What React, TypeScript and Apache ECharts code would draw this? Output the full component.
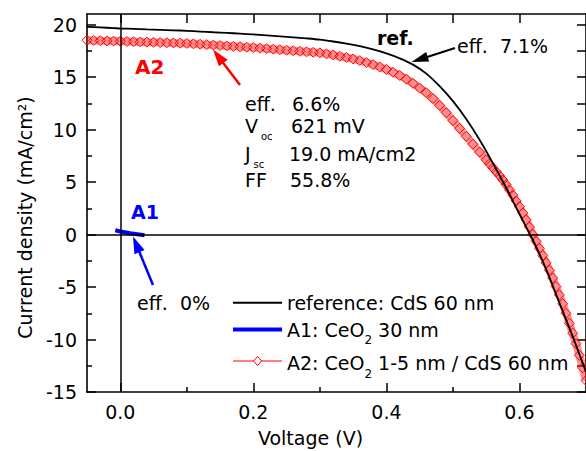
import React, { useEffect, useRef } from "react";
import * as echarts from "echarts";

const FONT = '"DejaVu Sans", sans-serif';

// axis ticks
const xMajorTicks = [0, 0.2, 0.4, 0.6];
const xMinorTicks = [0.1, 0.3, 0.5];
const xTopTicks = [0, 0.1, 0.2, 0.3, 0.4, 0.5, 0.6];
const yMajorTicks = [-15, -10, -5, 0, 5, 10, 15, 20];
const yMinorTicks = [-12.5, -7.5, -2.5, 2.5, 7.5, 12.5, 17.5];
const yRightTicks = [-15, -12.5, -10, -7.5, -5, -2.5, 0, 2.5, 5, 7.5, 10, 12.5, 15, 17.5, 20];

// reference: CdS 60 nm
const refVoltage = [-0.05, -0.03, -0.01, 0, 0.02, 0.04, 0.06, 0.08, 0.1, 0.12, 0.14, 0.16, 0.18, 0.2, 0.22, 0.24, 0.26, 0.28, 0.3, 0.32, 0.34, 0.36, 0.38, 0.4, 0.42, 0.44, 0.46, 0.48, 0.5, 0.52, 0.54, 0.56, 0.58, 0.6, 0.61, 0.62, 0.63, 0.64, 0.65, 0.66, 0.67, 0.68, 0.69, 0.7];
const refCurrent = [19.78, 19.72, 19.66, 19.62, 19.58, 19.53, 19.49, 19.45, 19.4, 19.33, 19.26, 19.2, 19.13, 19.05, 18.96, 18.87, 18.78, 18.68, 18.56, 18.38, 18.17, 17.93, 17.62, 17.25, 16.78, 16.18, 15.32, 14.12, 12.7, 11.0, 9.02, 6.8, 4.45, 1.95, 0.72, -0.5, -1.85, -3.3, -4.9, -6.5, -8.1, -9.7, -11.4, -13.1];

// A1: CeO2 30 nm
const a1Voltage = [-0.0075, 0, 0.015, 0.0365];
const a1Current = [0.4, 0.28, 0.12, -0.08];

// A2: CeO2 1-5 nm / CdS 60 nm
const a2Voltage = [-0.05, -0.04, -0.03, -0.02, -0.01, 0, 0.01, 0.02, 0.03, 0.04, 0.05, 0.06, 0.07, 0.08, 0.09, 0.1, 0.11, 0.12, 0.13, 0.14, 0.15, 0.16, 0.17, 0.18, 0.19, 0.2, 0.21, 0.22, 0.23, 0.24, 0.25, 0.26, 0.27, 0.28, 0.29, 0.3, 0.31, 0.32, 0.33, 0.34, 0.35, 0.36, 0.37, 0.38, 0.39, 0.4, 0.41, 0.42, 0.43, 0.44, 0.45, 0.46, 0.47, 0.48, 0.49, 0.5, 0.51, 0.52, 0.53, 0.54, 0.55, 0.555, 0.56, 0.565, 0.57, 0.575, 0.58, 0.585, 0.59, 0.595, 0.6, 0.605, 0.61, 0.615, 0.62, 0.625, 0.63, 0.635, 0.64, 0.645, 0.65, 0.655, 0.66, 0.665, 0.67, 0.675, 0.68, 0.685, 0.69, 0.695, 0.7];
const a2Current = [18.5, 18.48, 18.46, 18.44, 18.42, 18.4, 18.38, 18.36, 18.34, 18.32, 18.3, 18.28, 18.26, 18.24, 18.22, 18.2, 18.16, 18.12, 18.08, 18.04, 18.0, 17.96, 17.92, 17.88, 17.84, 17.8, 17.75, 17.7, 17.65, 17.6, 17.55, 17.5, 17.45, 17.4, 17.35, 17.3, 17.2, 17.1, 16.98, 16.86, 16.72, 16.56, 16.38, 16.18, 15.96, 15.72, 15.45, 15.15, 14.8, 14.4, 13.95, 13.5, 12.95, 12.3, 11.6, 10.85, 10.1, 9.35, 8.6, 7.85, 7.1, 6.72, 6.35, 5.98, 5.6, 5.2, 4.75, 4.25, 3.75, 3.2, 2.65, 2.05, 1.4, 0.72, 0.0, -0.65, -1.32, -2.0, -2.7, -3.4, -4.15, -4.95, -5.75, -6.6, -7.5, -8.45, -9.4, -10.4, -11.5, -12.7, -13.9];

const seriesNames = ["reference: CdS 60 nm", "A1: CeO2 30 nm", "A2: CeO2 1-5 nm / CdS 60 nm"];

const zip = (xs: number[], ys: number[]) => xs.map((x, i) => [x, ys[i]]);

function arrow(tail: number[], tip: number[], color: string, width: number, headLen: number, headW: number) {
  const dx = tip[0] - tail[0];
  const dy = tip[1] - tail[1];
  const len = Math.hypot(dx, dy);
  const ux = dx / len;
  const uy = dy / len;
  const bx = tip[0] - ux * headLen;
  const by = tip[1] - uy * headLen;
  const px = (-uy * headW) / 2;
  const py = (ux * headW) / 2;
  return [
    { type: "line", silent: true, shape: { x1: tail[0], y1: tail[1], x2: bx + ux * 3, y2: by + uy * 3 }, style: { stroke: color, lineWidth: width } },
    { type: "polygon", silent: true, shape: { points: [[tip[0], tip[1]], [bx + px, by + py], [bx - px, by - py]] }, style: { fill: color } },
  ];
}

function txt(x: number, y: number, text: string, opts: any = {}) {
  return {
    type: "text",
    x,
    y,
    silent: true,
    style: {
      text,
      fontSize: opts.fontSize || 19,
      fontFamily: FONT,
      fontWeight: opts.fontWeight || "normal",
      fill: opts.fill || "#000",
      align: "left",
      verticalAlign: "middle",
      rich: opts.rich,
    },
  };
}

const subStyle = (pad: number, size = 12, left = 0) => ({ fontSize: size, fontFamily: FONT, fill: "#000", padding: [pad, 0, 0, left] });

export default function App() {
  const ref = useRef<HTMLDivElement>(null);
  useEffect(() => {
    if (!ref.current) return;
    const chart = echarts.init(ref.current, null, { renderer: "svg" });
    const axisText = { fontSize: 19, fontFamily: FONT, color: "#000" };
    const lineBlack = { color: "#000", width: 1.6 };
    const base = { type: "value", splitLine: { show: false } };
    const graphic: any[] = [
      txt(377, 38, "ref.", { fontWeight: "bold" }),
      txt(457, 46, "eff.  7.1%"),
      ...arrow([455, 48], [411.5, 62], "#000", 2, 17, 10),
      txt(135, 67, "A2", { fontWeight: "bold", fontSize: 20, fill: "#ff0000" }),
      ...arrow([240, 85], [213, 49.5], "#ff0000", 2.5, 17, 11),
      txt(245, 104, "eff."),
      txt(292, 104, "6.6%"),
      txt(245, 126, "V{sub|oc}", { rich: { sub: subStyle(21, 10, 3) } }),
      txt(291, 126, "621 mV"),
      txt(245, 154, "J{sub|sc}", { rich: { sub: subStyle(20, 10, 3) } }),
      txt(289, 154, "19.0 mA/cm2"),
      txt(245, 179.5, "FF"),
      txt(290, 179.5, "55.8%"),
      txt(131, 212, "A1", { fontWeight: "bold", fill: "#0000ff" }),
      ...arrow([153, 285], [133, 236.5], "#0000ff", 2.5, 17, 11),
      txt(137, 303, "eff.  0%"),
      // legend
      { type: "line", silent: true, shape: { x1: 233, y1: 302.7, x2: 282, y2: 302.7 }, style: { stroke: "#000", lineWidth: 2 } },
      { type: "line", silent: true, shape: { x1: 233, y1: 329.5, x2: 282, y2: 329.5 }, style: { stroke: "#0000ff", lineWidth: 4 } },
      { type: "line", silent: true, shape: { x1: 233, y1: 361, x2: 282, y2: 361 }, style: { stroke: "#ff0000", lineWidth: 1 } },
      { type: "polygon", silent: true, shape: { points: [[257.5, 356.5], [261.5, 361], [257.5, 365.5], [253.5, 361]] }, style: { fill: "#fff", stroke: "#ff0000", lineWidth: 1 } },
      txt(287, 303, "reference: CdS 60 nm"),
      txt(287, 329.5, "A1: CeO{sub|2} 30 nm", { rich: { sub: subStyle(21) } }),
      txt(287, 363, "A2: CeO{sub|2} 1-5 nm / CdS 60 nm", { rich: { sub: subStyle(21) } }),
    ];
    chart.setOption({
      animation: false,
      backgroundColor: "#fff",
      grid: { left: 87, top: 14, width: 499, height: 378, outerBoundsMode: "none" },
      xAxis: [
        {
          ...base,
          min: -0.05,
          max: 0.7,
          position: "bottom",
          axisLine: { show: true, onZero: false, lineStyle: lineBlack },
          axisTick: { show: true, inside: true, length: 9, customValues: xMajorTicks, lineStyle: { color: "#000", width: 1.5 } },
          axisLabel: { ...axisText, customValues: xMajorTicks, margin: 10, formatter: (v: number) => v.toFixed(1) },
          name: "Voltage (V)",
          nameLocation: "middle",
          nameGap: 36,
          nameMoveOverlap: false,
          nameTextStyle: { ...axisText, padding: [0, 52, 0, 0] },
        },
        {
          ...base,
          min: -0.05,
          max: 0.7,
          position: "bottom",
          axisLine: { show: false, onZero: false },
          axisTick: { show: true, inside: true, length: 5, customValues: xMinorTicks, lineStyle: { color: "#000", width: 1.5 } },
          axisLabel: { show: false },
        },
        {
          ...base,
          min: -0.05,
          max: 0.7,
          position: "top",
          axisLine: { show: true, onZero: false, lineStyle: lineBlack },
          axisTick: { show: true, inside: true, length: 9, customValues: xTopTicks, lineStyle: { color: "#000", width: 1.5 } },
          axisLabel: { show: false },
        },
      ],
      yAxis: [
        {
          ...base,
          min: -15,
          max: 21,
          position: "left",
          axisLine: { show: true, onZero: false, lineStyle: lineBlack },
          axisTick: { show: true, inside: true, length: 9, customValues: yMajorTicks, lineStyle: { color: "#000", width: 1.5 } },
          axisLabel: { ...axisText, customValues: yMajorTicks, margin: 10, formatter: (v: number) => String(v) },
          name: "Current density (mA/cm²)",
          nameLocation: "middle",
          nameGap: 53,
          nameMoveOverlap: false,
          nameTextStyle: { ...axisText, padding: [0, 29, 0, 0] },
        },
        {
          ...base,
          min: -15,
          max: 21,
          position: "left",
          axisLine: { show: false, onZero: false },
          axisTick: { show: true, inside: true, length: 5, customValues: yMinorTicks, lineStyle: { color: "#000", width: 1.5 } },
          axisLabel: { show: false },
        },
        {
          ...base,
          min: -15,
          max: 21,
          position: "right",
          axisLine: { show: true, onZero: false, lineStyle: lineBlack },
          axisTick: { show: true, inside: true, length: 9, customValues: yRightTicks, lineStyle: { color: "#000", width: 1.5 } },
          axisLabel: { show: false },
        },
      ],
      series: [
        {
          name: seriesNames[2],
          type: "line",
          xAxisIndex: 0,
          yAxisIndex: 0,
          data: zip(a2Voltage, a2Current),
          symbol: "diamond",
          symbolSize: 10,
          showSymbol: true,
          showAllSymbol: true,
          itemStyle: { color: "rgba(255,255,255,0)", borderColor: "#ff0000", borderWidth: 1 },
          lineStyle: { color: "rgba(255,30,30,0.5)", width: 8, cap: "butt" },
          emphasis: { disabled: true },
          z: 2,
        },
        {
          name: seriesNames[1],
          type: "line",
          xAxisIndex: 0,
          yAxisIndex: 0,
          data: zip(a1Voltage, a1Current),
          symbol: "none",
          lineStyle: { color: "#0000ff", width: 4 },
          itemStyle: { color: "#0000ff" },
          emphasis: { disabled: true },
          z: 3,
        },
        {
          name: seriesNames[0],
          type: "line",
          xAxisIndex: 0,
          yAxisIndex: 0,
          data: zip(refVoltage, refCurrent),
          symbol: "none",
          smooth: 0.3,
          lineStyle: { color: "#000", width: 1.8 },
          itemStyle: { color: "#000" },
          emphasis: { disabled: true },
          z: 4,
          markLine: {
            silent: true,
            symbol: "none",
            label: { show: false },
            lineStyle: { color: "#000", width: 1.5, type: "solid" },
            data: [{ xAxis: 0 }, { yAxis: 0 }],
          },
        },
      ],
      graphic,
    });
    return () => chart.dispose();
  }, []);
  return <div ref={ref} style={{ position: "absolute", left: 0, top: 0, width: 586, height: 451 }} />;
}
